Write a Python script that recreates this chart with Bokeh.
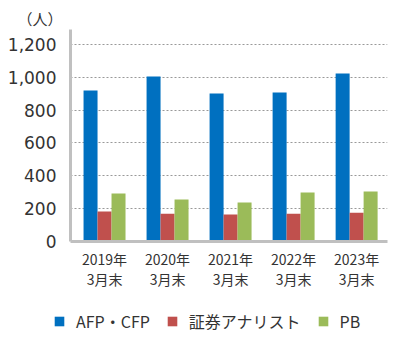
from bokeh.plotting import figure
from bokeh.layouts import column
from bokeh.models import ColumnDataSource, Range1d, FixedTicker, NumeralTickFormatter, Legend, LegendItem
from bokeh.transform import dodge
from bokeh.embed import file_html
from bokeh.resources import INLINE

years = ["2019年\n3月末", "2020年\n3月末", "2021年\n3月末", "2022年\n3月末", "2023年\n3月末"]
afp_cfp = [919, 1004, 901, 907, 1023]
analyst = [182, 169, 164, 169, 175]
pb = [292, 255, 237, 298, 304]
y_ticks = [0, 200, 400, 600, 800, 1000, 1200]
series_names = ["AFP・CFP", "証券アナリスト", "PB"]
colors = ["#0070C0", "#C0504D", "#9BBB59"]

FONT = "Noto Sans CJK JP"
idx = list(range(len(years)))
src = ColumnDataSource(dict(x=idx, a=afp_cfp, b=analyst, c=pb))

p = figure(frame_width=317, frame_height=212, output_backend="svg", toolbar_location=None,
           x_range=Range1d(-0.54, 4.49), y_range=Range1d(0, 1290),
           min_border_left=70, min_border_right=13, min_border_top=29, min_border_bottom=60)
p.outline_line_color = None
p.background_fill_color = "white"

w = 0.222
p.vbar(x=dodge("x", -w, range=p.x_range), top="a", width=w, source=src, color=colors[0], line_color=None)
p.vbar(x=dodge("x", 0, range=p.x_range), top="b", width=w, source=src, color=colors[1], line_color=None)
p.vbar(x=dodge("x", w, range=p.x_range), top="c", width=w, source=src, color=colors[2], line_color=None)

# axes
p.yaxis.ticker = FixedTicker(ticks=y_ticks)
p.yaxis.formatter = NumeralTickFormatter(format="0,0")
p.xaxis.ticker = FixedTicker(ticks=idx)
p.xaxis.major_label_overrides = {i: years[i] for i in idx}
for ax in (p.xaxis, p.yaxis):
    ax.axis_line_color = "#C0C0C0"
    ax.axis_line_width = 3
    ax.major_tick_line_color = None
    ax.minor_tick_line_color = None
    ax.major_label_text_color = "#333333"
p.yaxis.major_label_text_font = "DejaVu Sans"
p.yaxis.major_label_text_font_size = "17px"
p.yaxis.major_label_standoff = 8
p.xaxis.major_label_text_font = FONT
p.xaxis.major_label_text_font_size = "14px"
p.xaxis.major_label_text_line_height = 1.0
p.xaxis.major_label_standoff = 1

p.xgrid.grid_line_color = None
p.ygrid.grid_line_color = "#999999"
p.ygrid.grid_line_dash = "2 2"
p.ygrid.grid_line_width = 1

p.title.text = "（人）"
p.title.text_font = FONT
p.title.text_font_size = "15px"
p.title.text_font_style = "normal"
p.title.text_color = "#333333"
p.title.align = "left"
p.title.offset = -53
p.title.standoff = 2

# legend strip below the chart
lg = figure(width=400, height=39, output_backend="svg", toolbar_location=None,
            x_range=Range1d(0, 1), y_range=Range1d(0, 1),
            x_axis_location=None, y_axis_location=None,
            min_border_left=0, min_border_right=0, min_border_top=0, min_border_bottom=0)
lg.outline_line_color = None
lg.xgrid.grid_line_color = None
lg.ygrid.grid_line_color = None
# legend proxies: zero-height bars placed outside the strip's visible range
swatches = [lg.vbar(x=[-1], top=[0], bottom=[0], width=0.1, color=c, line_color=None) for c in colors]

legend_margin = 0
if "frame_align" in lg.properties():
    lg.frame_align = False
    p.frame_align = False
    legend_margin = 53

legend = Legend(items=[LegendItem(label=n, renderers=[r]) for n, r in zip(series_names, swatches)],
                orientation="horizontal", location="center_left",
                padding=0, margin=legend_margin, spacing=16, label_standoff=11,
                glyph_width=12, glyph_height=12, label_height=12,
                border_line_color=None, background_fill_alpha=0,
                label_text_font=FONT, label_text_font_size="16px", label_text_color="#333333")
lg.add_layout(legend)

layout = column(p, lg, spacing=0)
open("out.html", "w").write(file_html(layout, INLINE))
